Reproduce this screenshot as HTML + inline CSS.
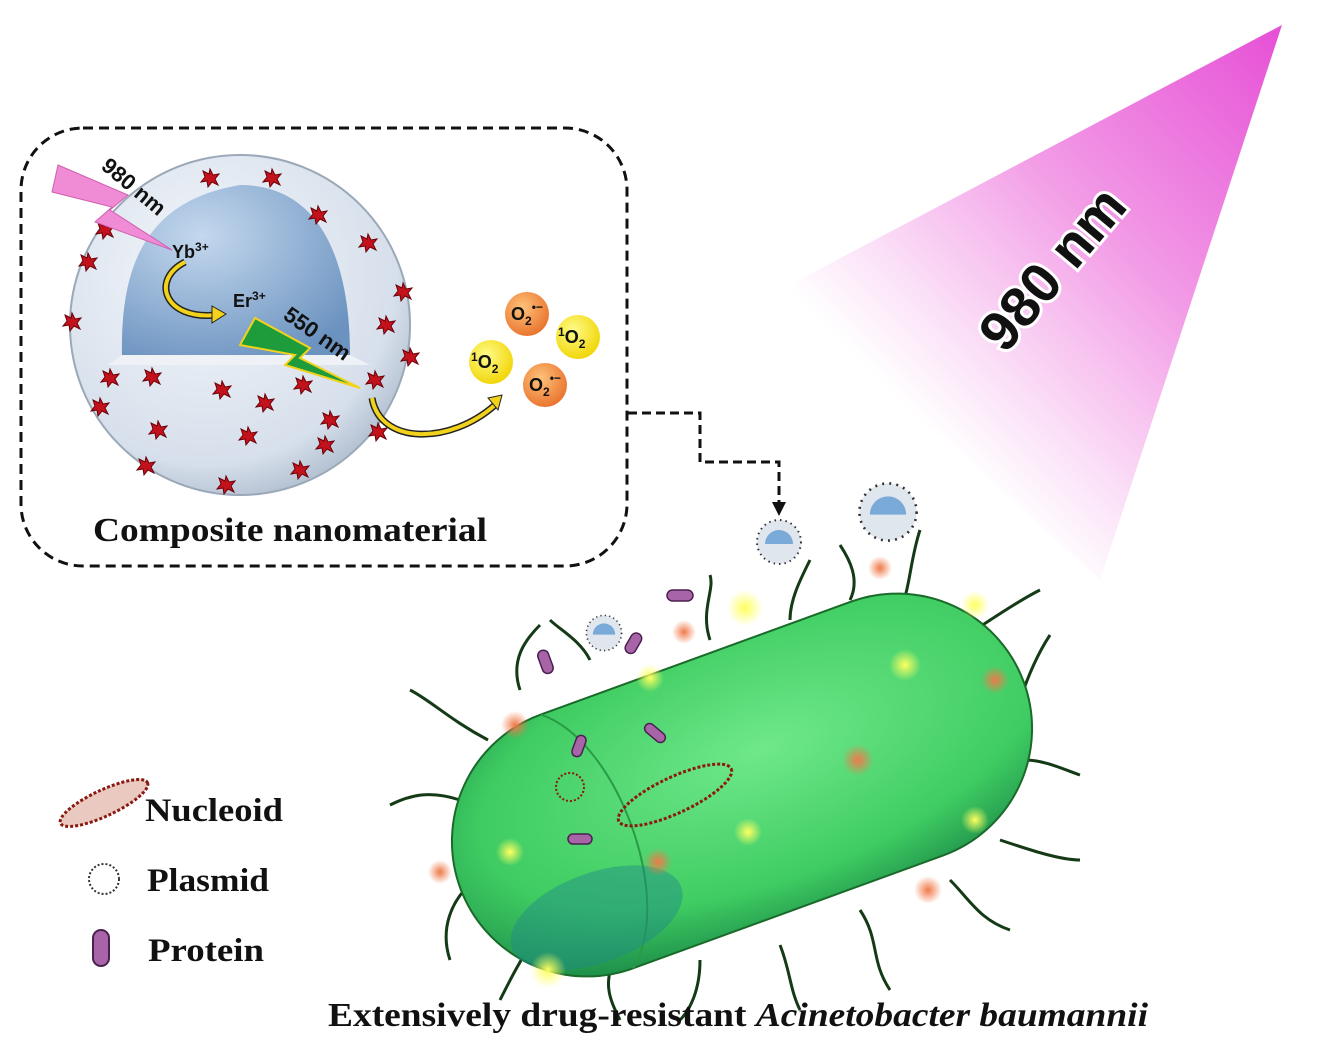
<!DOCTYPE html>
<html><head><meta charset="utf-8">
<style>
html,body{margin:0;padding:0;background:#fff;}
svg{display:block;}
.t{font-family:"Liberation Serif",serif;font-weight:bold;fill:#111;}
.s{font-family:"Liberation Sans",sans-serif;font-weight:bold;fill:#111;}
</style></head><body>
<svg width="1318" height="1042" viewBox="0 0 1318 1042" xmlns="http://www.w3.org/2000/svg">
<defs>
<linearGradient id="beam" x1="1282" y1="25" x2="900" y2="400" gradientUnits="userSpaceOnUse">
<stop offset="0" stop-color="#e64fd6"/><stop offset="0.5" stop-color="#f29be6"/><stop offset="1" stop-color="#fff" stop-opacity="0.9"/></linearGradient>
<radialGradient id="sph" cx="0.4" cy="0.35" r="0.7"><stop offset="0" stop-color="#f4f7fb"/><stop offset="0.8" stop-color="#d6dfeb"/><stop offset="1" stop-color="#aebccd"/></radialGradient>
<radialGradient id="core" cx="0.35" cy="0.3" r="0.8"><stop offset="0" stop-color="#c4d8ee"/><stop offset="1" stop-color="#6c93c0"/></radialGradient>
<radialGradient id="bac" cx="0.55" cy="0.4" r="0.7"><stop offset="0" stop-color="#6fe88a"/><stop offset="0.7" stop-color="#3fcc62"/><stop offset="1" stop-color="#1e8f4a"/></radialGradient>
<radialGradient id="og" cx="0.4" cy="0.35" r="0.7"><stop offset="0" stop-color="#ffc27a"/><stop offset="1" stop-color="#e8712b"/></radialGradient>
<radialGradient id="yg" cx="0.4" cy="0.35" r="0.7"><stop offset="0" stop-color="#fffb8a"/><stop offset="1" stop-color="#f0d400"/></radialGradient>
<radialGradient id="glowY"><stop offset="0" stop-color="#ffff60"/><stop offset="1" stop-color="#ffff60" stop-opacity="0"/></radialGradient>
<radialGradient id="glowO"><stop offset="0" stop-color="#f07a4a"/><stop offset="1" stop-color="#f07a4a" stop-opacity="0"/></radialGradient>
<g id="star"><polygon points="0,-9 3,-3 9,-4 5,1 8,7 2,4 -2,9 -3,3 -9,4 -5,-1 -7,-7 -1,-4" fill="#c3121c" stroke="#6a0008" stroke-width="1"/></g>
<g id="np"><circle r="22" fill="#dfe6ee" stroke="#333" stroke-width="2" stroke-dasharray="1.5 4"/><path d="M-14,2 A14,14 0 0 1 14,2 Z" fill="#7aaad8"/></g>
</defs>

<polygon points="1282,25 780,290 1100,580" fill="url(#beam)"/>
<text class="s" font-size="56" transform="translate(1005,355) rotate(-50)" stroke="#fff" stroke-width="6" paint-order="stroke">980 nm</text>

<rect x="21" y="128" width="606" height="438" rx="62" fill="none" stroke="#111" stroke-width="3" stroke-dasharray="10 6"/>
<path d="M628,413 H700 V462 H779 V505" fill="none" stroke="#111" stroke-width="3" stroke-dasharray="9 5"/>
<polygon points="772,502 786,502 779,516" fill="#111"/>

<circle cx="240" cy="325" r="170" fill="url(#sph)" stroke="#9aa8b8" stroke-width="2"/>
<path d="M122,355 C120,260 150,200 240,185 C320,185 350,260 350,355 Z" fill="url(#core)"/>
<path d="M122,355 L350,355 L370,365 L108,365 Z" fill="#eef2f7"/>
<g>
<use href="#star" x="210" y="178"/><use href="#star" x="272" y="178"/><use href="#star" x="318" y="215"/><use href="#star" x="368" y="243"/><use href="#star" x="403" y="292"/><use href="#star" x="386" y="325"/><use href="#star" x="410" y="357"/><use href="#star" x="375" y="380"/><use href="#star" x="378" y="432"/><use href="#star" x="330" y="420"/><use href="#star" x="303" y="385"/><use href="#star" x="265" y="403"/><use href="#star" x="222" y="390"/><use href="#star" x="152" y="377"/><use href="#star" x="110" y="378"/><use href="#star" x="100" y="407"/><use href="#star" x="158" y="430"/><use href="#star" x="248" y="436"/><use href="#star" x="325" y="445"/><use href="#star" x="300" y="470"/><use href="#star" x="226" y="485"/><use href="#star" x="146" y="466"/><use href="#star" x="88" y="262"/><use href="#star" x="72" y="322"/><use href="#star" x="105" y="230"/></g>
<polygon points="58,165 128,195 110,210 172,250 95,222 112,207 52,192" fill="#f08bd5" stroke="#d060b0" stroke-width="1"/>
<text class="s" font-size="22" transform="translate(100,168) rotate(40)">980 nm</text>
<text class="s" font-size="18" x="172" y="258">Yb<tspan font-size="12" dy="-7">3+</tspan></text>
<text class="s" font-size="18" x="233" y="307">Er<tspan font-size="12" dy="-7">3+</tspan></text>
<path d="M185,262 C150,280 165,320 215,315" fill="none" stroke="#222" stroke-width="7"/>
<path d="M185,262 C150,280 165,320 215,315" fill="none" stroke="#f2d21a" stroke-width="4"/>
<polygon points="212,306 226,314 212,323" fill="#f2d21a" stroke="#222"/>
<polygon points="240,345 255,318 310,348 300,358 360,388 285,365 295,355" fill="#1e9b3a" stroke="#f2d21a" stroke-width="2"/>
<text class="s" font-size="22" transform="translate(282,318) rotate(35)">550 nm</text>
<path d="M372,398 C380,445 450,445 495,405" fill="none" stroke="#222" stroke-width="7"/>
<path d="M372,398 C380,445 450,445 495,405" fill="none" stroke="#f2d21a" stroke-width="4"/>
<polygon points="488,398 502,395 498,410" fill="#f2d21a" stroke="#222"/>
<circle cx="527" cy="314" r="22" fill="url(#og)"/><text class="s" font-size="18" x="511" y="320">O<tspan font-size="12" dy="5">2</tspan><tspan font-size="12" dy="-14">•−</tspan></text>
<circle cx="578" cy="337" r="22" fill="url(#yg)"/><text class="s" font-size="18" x="558" y="343"><tspan font-size="12" dy="-7">1</tspan><tspan dy="7">O</tspan><tspan font-size="12" dy="5">2</tspan></text>
<circle cx="491" cy="362" r="22" fill="url(#yg)"/><text class="s" font-size="18" x="471" y="368"><tspan font-size="12" dy="-7">1</tspan><tspan dy="7">O</tspan><tspan font-size="12" dy="5">2</tspan></text>
<circle cx="545" cy="385" r="22" fill="url(#og)"/><text class="s" font-size="18" x="529" y="391">O<tspan font-size="12" dy="5">2</tspan><tspan font-size="12" dy="-14">•−</tspan></text>
<text class="t" font-size="34" x="93" y="541" textLength="394" lengthAdjust="spacingAndGlyphs">Composite nanomaterial</text>

<g stroke="#143a16" stroke-width="3" fill="none">
<path d="M520,690 C510,660 525,640 540,625"/><path d="M488,740 C450,720 430,700 410,690"/><path d="M460,800 C430,790 410,795 390,805"/><path d="M475,880 C450,900 440,930 450,960"/>
<path d="M540,930 C520,960 510,980 500,1000"/><path d="M620,950 C600,980 610,1000 620,1020"/><path d="M700,960 C700,990 690,1010 680,1020"/><path d="M780,945 C790,970 790,990 800,1010"/>
<path d="M860,910 C880,940 870,960 890,990"/><path d="M950,880 C970,900 980,920 1010,930"/><path d="M1000,840 C1030,850 1060,860 1080,860"/><path d="M1025,760 C1045,760 1065,770 1080,775"/>
<path d="M1020,700 C1030,670 1040,650 1050,635"/><path d="M960,640 C990,620 1020,600 1040,590"/><path d="M900,610 C910,590 910,560 920,530"/><path d="M850,600 C860,580 850,560 840,545"/>
<path d="M790,620 C790,600 800,580 810,560"/><path d="M710,640 C700,610 715,590 710,575"/><path d="M590,660 C580,640 560,630 550,620"/>
</g>
<g transform="rotate(-20 742 785)">
<rect x="442" y="650" width="600" height="270" rx="135" fill="url(#bac)" stroke="#1a6a2a" stroke-width="2"/>
<path d="M577,650 C640,700 640,870 577,920" fill="none" stroke="#2a9a45" stroke-width="2"/>
<ellipse cx="560" cy="860" rx="90" ry="45" fill="#1f8a8a" opacity="0.45"/>
</g>
<g>
<circle cx="905" cy="665" r="16" fill="url(#glowY)"/><circle cx="650" cy="678" r="14" fill="url(#glowY)"/><circle cx="510" cy="852" r="14" fill="url(#glowY)"/><circle cx="748" cy="832" r="14" fill="url(#glowY)"/><circle cx="975" cy="820" r="14" fill="url(#glowY)"/><circle cx="745" cy="608" r="18" fill="url(#glowY)"/><circle cx="548" cy="970" r="18" fill="url(#glowY)"/><circle cx="975" cy="605" r="14" fill="url(#glowY)"/>
<circle cx="515" cy="725" r="14" fill="url(#glowO)"/><circle cx="658" cy="862" r="14" fill="url(#glowO)"/><circle cx="858" cy="760" r="16" fill="url(#glowO)"/><circle cx="995" cy="680" r="14" fill="url(#glowO)"/><circle cx="684" cy="632" r="12" fill="url(#glowO)"/><circle cx="880" cy="568" r="12" fill="url(#glowO)"/><circle cx="440" cy="872" r="12" fill="url(#glowO)"/><circle cx="928" cy="890" r="14" fill="url(#glowO)"/>
</g>
<use href="#np" x="779" y="542"/><g transform="translate(888,512) scale(1.3)"><use href="#np"/></g><g transform="translate(604,633) scale(0.8)"><use href="#np"/></g>
<g fill="#a765a8" stroke="#4a2050" stroke-width="1.5">
<rect x="667" y="590" width="26" height="11" rx="5.5"/><rect x="540" y="650" width="11" height="24" rx="5.5" transform="rotate(-20 545 662)"/><rect x="628" y="632" width="11" height="22" rx="5.5" transform="rotate(30 633 643)"/>
<rect x="574" y="735" width="10" height="22" rx="5" transform="rotate(20 579 746)"/><rect x="643" y="728" width="24" height="10" rx="5" transform="rotate(40 655 733)"/><rect x="568" y="834" width="24" height="10" rx="5"/>
</g>
<circle cx="570" cy="787" r="14" fill="none" stroke="#8a1a10" stroke-width="2" stroke-dasharray="2 2"/>
<ellipse cx="675" cy="795" rx="62" ry="18" transform="rotate(-25 675 795)" fill="none" stroke="#8a1a10" stroke-width="3" stroke-dasharray="3 2"/>
<ellipse cx="104" cy="803" rx="48" ry="13" transform="rotate(-25 104 803)" fill="#e9c9c0" stroke="#8a1a10" stroke-width="3" stroke-dasharray="3 2"/>
<text class="t" font-size="33" x="145" y="821" textLength="138" lengthAdjust="spacingAndGlyphs">Nucleoid</text>
<circle cx="104" cy="879" r="15" fill="none" stroke="#333" stroke-width="2" stroke-dasharray="2 2"/>
<text class="t" font-size="33" x="147" y="891" textLength="122" lengthAdjust="spacingAndGlyphs">Plasmid</text>
<rect x="93" y="930" width="16" height="36" rx="8" fill="#a765a8" stroke="#4a2050" stroke-width="2"/>
<text class="t" font-size="33" x="148" y="961" textLength="116" lengthAdjust="spacingAndGlyphs">Protein</text>
<text class="t" font-size="34" x="328" y="1026" textLength="820" lengthAdjust="spacingAndGlyphs">Extensively drug-resistant <tspan font-style="italic">Acinetobacter baumannii</tspan></text>
</svg>
</body></html>
